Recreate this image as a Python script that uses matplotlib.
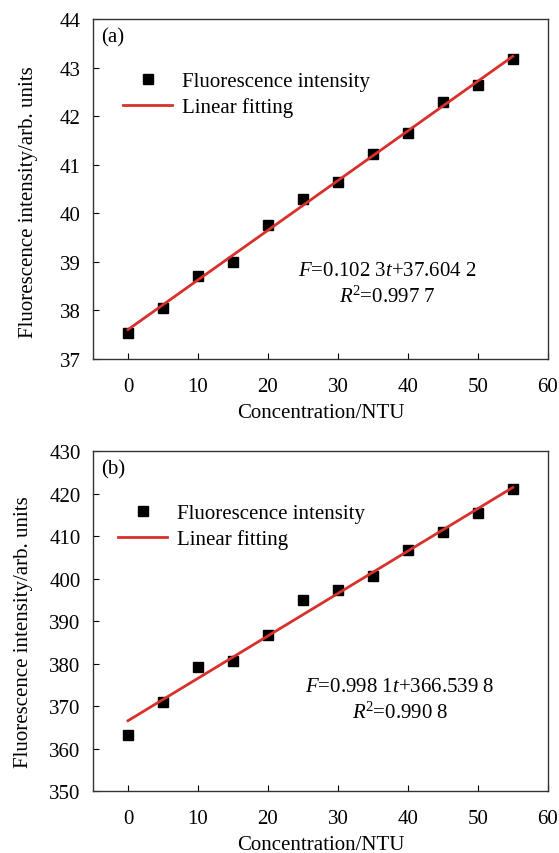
import numpy as np
import matplotlib
matplotlib.use('Agg')
import matplotlib.pyplot as plt

plt.rcParams['font.family'] = 'Liberation Serif'
plt.rcParams['mathtext.fontset'] = 'custom'
plt.rcParams['mathtext.rm'] = 'Liberation Serif'
plt.rcParams['mathtext.it'] = 'Liberation Serif:italic'
plt.rcParams['xtick.direction'] = 'in'
plt.rcParams['ytick.direction'] = 'in'

conc = [0, 5, 10, 15, 20, 25, 30, 35, 40, 45, 50, 55]
intensity_a = [37.53, 38.04, 38.70, 39.00, 39.75, 40.29, 40.64, 41.22, 41.65, 42.30, 42.64, 43.18]
intensity_b = [363.1, 370.9, 379.2, 380.6, 386.8, 394.9, 397.2, 400.7, 406.8, 410.9, 415.5, 421.0]
slope_a, icpt_a = 0.1023, 37.6042
slope_b, icpt_b = 0.9981, 366.5398
eq_a = ['$F$=0.102 3$t$+37.604 2', '$R$$^2$=0.997 7']
eq_b = ['$F$=0.998 1$t$+366.539 8', '$R$$^2$=0.990 8']

red = '#d8302a'
fs = 15
fig = plt.figure(figsize=(5.59, 8.54), dpi=100)
ax1 = fig.add_axes([0.1664, 0.5785, 0.8136, 0.3981])
ax2 = fig.add_axes([0.1664, 0.0726, 0.8136, 0.3981])

# ax, y, slope, intercept, eq text, tag, ylim, ystep, ylabel pos, legend x, eq pos
panels = [(ax1, intensity_a, slope_a, icpt_a, eq_a, '(a)', (37, 44), 1, (-0.121, 0.465), 0.066, (0.648, 0.221)),
          (ax2, intensity_b, slope_b, icpt_b, eq_b, '(b)', (350, 430), 10, (-0.132, 0.47), 0.055, (0.675, 0.268))]

for ax, y, k, b, eq, tag, ylim, step, ylpos, lgx, eqpos in panels:
    t = np.array(conc)
    ax.plot(t, y, 's', color='black', markersize=7, label='Fluorescence intensity')
    ax.plot(t, k * t + b, '-', color=red, lw=2, label='Linear fitting')
    ax.set_xlim(-5, 60)
    ax.set_ylim(*ylim)
    ax.set_xticks(range(0, 61, 10))
    ax.set_yticks(np.arange(ylim[0], ylim[1] + step / 2, step))
    ax.tick_params(labelsize=fs, length=4, width=0.8)
    ax.tick_params(axis='x', pad=13)
    ax.tick_params(axis='y', pad=9)
    ax.set_xlabel('Concentration/NTU', fontsize=fs, labelpad=5)
    ax.set_ylabel('Fluorescence intensity/arb. units', fontsize=fs)
    ax.yaxis.set_label_coords(*ylpos)
    for s in ax.spines.values():
        s.set_linewidth(1)
        s.set_color('#333333')
    ax.text(0.018, 0.975, tag, transform=ax.transAxes, fontsize=fs, va='top')
    ax.legend(loc='upper left', bbox_to_anchor=(lgx, 0.845), frameon=False,
              fontsize=fs, handlelength=2.35, handletextpad=0.5, labelspacing=0.3,
              borderpad=0, borderaxespad=0)
    ax.text(eqpos[0], eqpos[1], eq[0] + '\n' + eq[1], transform=ax.transAxes,
            fontsize=fs, ha='center', va='center', linespacing=1.35)

fig.savefig('out.png', dpi=100)
